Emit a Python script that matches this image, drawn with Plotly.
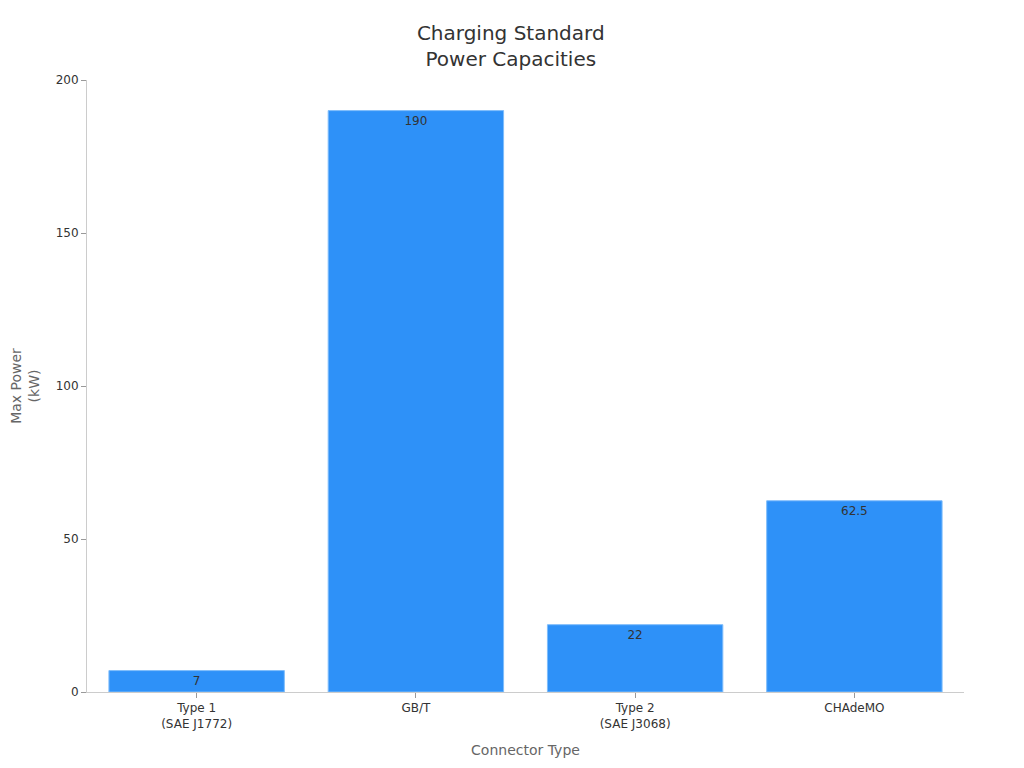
import plotly.graph_objects as go

connectors = ["Type 1<br>(SAE J1772)", "GB/T", "Type 2<br>(SAE J3068)", "CHAdeMO"]
max_power_kw = [7, 190, 22, 62.5]
value_labels = ["7", "190", "22", "62.5"]

fig = go.Figure(go.Bar(
    x=connectors,
    y=max_power_kw,
    text=value_labels,
    textposition="inside",
    insidetextanchor="end",
    textfont=dict(color="#333333", size=12),
    marker=dict(color="#2e91f8", line=dict(color="#7fbdfb", width=1)),
    width=0.8,
))

fig.update_layout(
    width=1024, height=768,
    font=dict(family="DejaVu Sans", color="#333333", size=12),
    title=dict(text="Charging Standard<br>Power Capacities", x=0.491, xanchor="center",
               y=0.9585, yanchor="top", automargin=False, font=dict(size=20, color="#333333")),
    plot_bgcolor="white", paper_bgcolor="white",
    margin=dict(l=79, r=68, t=72, b=84, autoexpand=False),
    showlegend=False,
)
fig.update_xaxes(
    title=dict(text="Connector Type", font=dict(size=14, color="#666666"), standoff=15),
    showline=True, linecolor="#cccccc", ticks="outside", tickcolor="#999999", ticklen=5,
    showgrid=False, automargin=False,
)
fig.update_yaxes(
    title=dict(text="Max Power<br>(kW)", font=dict(size=14, color="#666666"), standoff=24),
    range=[0, 200], tickvals=[0, 50, 100, 150, 200],
    showline=True, linecolor="#cccccc", ticks="outside", tickcolor="#999999", ticklen=5,
    showgrid=False, zeroline=False, automargin=True,
)

fig.write_html("out.html")
